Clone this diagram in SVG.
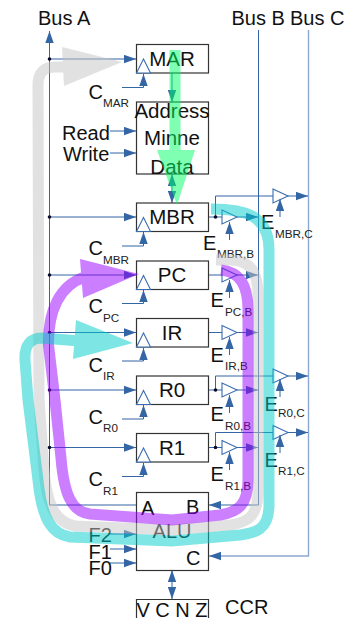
<svg xmlns="http://www.w3.org/2000/svg" xmlns:xlink="http://www.w3.org/1999/xlink" width="354" height="618" viewBox="0 0 354 618">
<style>
text{font-family:"Liberation Sans",Arial,sans-serif;fill:#111;font-size:20px}
.s{font-size:11.7px;fill:#222}
.c{text-anchor:middle}
.n{font-size:20.500px}
.box{fill:#fff;stroke:#333;stroke-width:1.2}
.w{fill:none;stroke:#3465a4;stroke-width:1}
.a{marker-end:url(#h)}
.clk,.buf{fill:#fff;stroke:#3a6db0;stroke-width:1.1}
.d{fill:#0a0a2a}
</style>
<defs>
<marker id="h" markerUnits="userSpaceOnUse" markerWidth="12" markerHeight="9" refX="12" refY="4.500" orient="auto"><path d="M0 0.300L12 4.500L0 8.700Z" fill="#3465a4"/></marker>
<marker id="hs" markerUnits="userSpaceOnUse" markerWidth="12" markerHeight="9" refX="0" refY="4.500" orient="auto"><path d="M12 0.300L0 4.500L12 8.700Z" fill="#3465a4"/></marker>
<path id="t" d="M0 0L7 -14L14 0Z" class="clk"/>
<path id="b" d="M0 -7L15 0L0 7Z" class="buf"/>
</defs>

<g id="connectors">
<path class="w a" d="M49.500 505V31"/>
<path class="w" d="M258.500 30V505"/>
<path class="w a" d="M258.500 505H209"/>
<path class="a" fill="none" stroke="#8aa8d0" stroke-width="1.400" d="M308.500 30V556H209"/>
<path class="w" d="M49.500 505H136"/>
<path class="w a" d="M49.500 59H136"/>
<path class="w a" d="M49.500 217H136"/>
<path class="w a" d="M49.500 275H136"/>
<path class="w a" d="M49.500 332.500H136"/>
<path class="w a" d="M49.500 390H136"/>
<path class="w a" d="M49.500 447.500H136"/>
<circle class="d" cx="49.500" cy="59" r="1.800"/><circle class="d" cx="49.500" cy="217" r="1.800"/><circle class="d" cx="49.500" cy="275" r="1.800"/><circle class="d" cx="49.500" cy="332.500" r="1.800"/><circle class="d" cx="49.500" cy="390" r="1.800"/><circle class="d" cx="49.500" cy="447.500" r="1.800"/>
<path class="w a" d="M122 87.500H143.500V74"/>
<path class="w a" d="M122 246H143.500V232"/>
<path class="w a" d="M122 303.500H143.500V290"/>
<path class="w a" d="M122 361H143.500V348"/>
<path class="w a" d="M122 419H143.500V405"/>
<path class="w a" d="M122 476.500H143.500V463"/>
<path class="w a" d="M110 131H136"/>
<path class="w a" d="M110 153H136"/>
<path class="w a" d="M110 534H136"/>
<path class="w a" d="M110 549H136"/>
<path class="w a" d="M110 563H136"/>
<path class="w a" d="M172 73V102"/>
<path class="w a" style="marker-start:url(#hs)" d="M172 174V203"/>
<path class="w a" style="marker-start:url(#hs)" d="M172 570V599"/>
<path class="w a" d="M208 217H258"/>
<path class="w a" d="M208 275H258"/>
<path class="w a" d="M208 332.500H258"/>
<path class="w a" d="M208 390H258"/>
<path class="w a" d="M208 447.500H258"/>
<path class="w a" d="M215.500 217V196H308"/>
<path class="w a" d="M215.500 390V376H308"/>
<path class="w a" d="M215.500 447.500V432.500H308"/>
<circle class="d" cx="215.500" cy="217" r="1.800"/><circle class="d" cx="215.500" cy="390" r="1.800"/><circle class="d" cx="215.500" cy="447.500" r="1.800"/>
<g id="buffers">
<use xlink:href="#b" href="#b" x="222" y="217"/><use xlink:href="#b" href="#b" x="222" y="275"/><use xlink:href="#b" href="#b" x="222" y="332.500"/><use xlink:href="#b" href="#b" x="222" y="390"/><use xlink:href="#b" href="#b" x="222" y="447.500"/>
<use xlink:href="#b" href="#b" x="273" y="196"/><use xlink:href="#b" href="#b" x="273" y="376"/><use xlink:href="#b" href="#b" x="273" y="432.500"/>
</g>
<path class="w a" d="M229.500 240V222"/><path class="w a" d="M229.500 298V280"/><path class="w a" d="M229.500 355V337"/><path class="w a" d="M229.500 413V395"/><path class="w a" d="M229.500 470V452"/>
<path class="w a" d="M280 217V199"/><path class="w a" d="M280 397V379"/><path class="w a" d="M280 453V435"/>
</g>

<g id="MAR"><rect class="box" x="136.500" y="44.500" width="72" height="28.500"/><use xlink:href="#t" href="#t" x="136.500" y="73"/><text class="c n" x="172" y="66">MAR</text></g>
<g id="Memory"><rect class="box" x="136.500" y="102" width="72" height="72"/><text class="c n" x="172" y="117.500">Address</text><text class="c n" x="172" y="145">Minne</text><text class="c n" x="172" y="174">Data</text></g>
<g id="MBR"><rect class="box" x="136.500" y="203" width="72" height="28.500"/><use xlink:href="#t" href="#t" x="136.500" y="231.500"/><text class="c n" x="172" y="224">MBR</text></g>
<g id="PC"><rect class="box" x="136.500" y="261" width="72" height="28.500"/><use xlink:href="#t" href="#t" x="136.500" y="289.500"/><text class="c n" x="172" y="282">PC</text></g>
<g id="IR"><rect class="box" x="136.500" y="318.500" width="72" height="28.500"/><use xlink:href="#t" href="#t" x="136.500" y="347"/><text class="c n" x="172" y="339.500">IR</text></g>
<g id="R0"><rect class="box" x="136.500" y="376" width="72" height="28.500"/><use xlink:href="#t" href="#t" x="136.500" y="404.500"/><text class="c n" x="172" y="397">R0</text></g>
<g id="R1"><rect class="box" x="136.500" y="433.500" width="72" height="28.500"/><use xlink:href="#t" href="#t" x="136.500" y="462"/><text class="c n" x="172" y="454.500">R1</text></g>
<g id="ALU"><rect class="box" x="136.500" y="492.500" width="72" height="78"/><text x="141" y="515">A</text><text x="186" y="514">B</text><text class="c" x="172" y="538">ALU</text><text x="186" y="565">C</text></g>
<g id="CCR"><path class="box" d="M136.500 618V599.500H208.500V618"/><text class="c" x="172" y="617">V C N Z</text><text x="225" y="614">CCR</text></g>

<g id="labels">
<text x="38" y="25">Bus A</text><text x="231.500" y="25">Bus B</text><text x="290" y="25">Bus C</text>
<text x="88.500" y="99">C</text><text class="s" x="103" y="107">MAR</text>
<text x="62" y="140">Read</text><text x="63" y="161">Write</text>
<text x="88.500" y="255">C</text><text class="s" x="103" y="264">MBR</text>
<text x="88.500" y="313">C</text><text class="s" x="103" y="322">PC</text>
<text x="88.500" y="372">C</text><text class="s" x="103" y="380">IR</text>
<text x="88.500" y="424">C</text><text class="s" x="103" y="432">R0</text>
<text x="88.500" y="486">C</text><text class="s" x="103" y="495">R1</text>
<text x="88.500" y="542">F2</text><text x="88.500" y="558.500">F1</text><text x="88.500" y="574.500">F0</text>
<text x="203" y="250">E</text><text class="s" x="217" y="258">MBR,B</text>
<text x="210.500" y="307">E</text><text class="s" x="225" y="316">PC,B</text>
<text x="210.500" y="362">E</text><text class="s" x="225" y="370">IR,B</text>
<text x="210.500" y="421">E</text><text class="s" x="225" y="430">R0,B</text>
<text x="210.500" y="481">E</text><text class="s" x="225" y="490">R1,B</text>
<text x="261" y="229">E</text><text class="s" x="275" y="238">MBR,C</text>
<text x="264.500" y="411">E</text><text class="s" x="278" y="417">R0,C</text>
<text x="264.500" y="467">E</text><text class="s" x="278" y="475">R1,C</text>
</g>

<g id="flows">
<g opacity="0.5"><path fill="none" stroke="#c5c5c5" stroke-width="11" d="M216 260H230C248 260 258 270 258 295V490C258 515 250 522 230 525L172 530L75 526C55 522 47 505 44 470L39 400L38 85Q38 67 55 67H70"/><path fill="#c5c5c5" d="M62 47L122 62L64 86Z"/></g>
<g opacity="0.5"><path fill="none" stroke="#9900ff" stroke-width="11" d="M221 270C240 272 248 285 248 310V480C248 505 238 512 220 515L172 520L90 514C72 512 64 495 61 458L55 400L48.500 345C48 310 60 285 85 277"/><path fill="#9900ff" d="M80 259L139 274L83 298Z"/></g>
<g opacity="0.5"><path fill="none" stroke="#00cccc" stroke-width="11" d="M211 209C245 209 269 215 269 250V505C269 530 255 533 240 535L172 541L70 537C52 534 42 520 38 480L28 400L25 360Q24 338 42 338L80 341"/><path fill="#00cccc" d="M76 320L133 343L73 359Z"/></g>
<g opacity="0.5"><path fill="none" stroke="#00ff66" stroke-width="11" d="M175 50V160"/><path fill="#00ff66" d="M157 150L195 150L177 205Z"/></g>
</g>
</svg>
